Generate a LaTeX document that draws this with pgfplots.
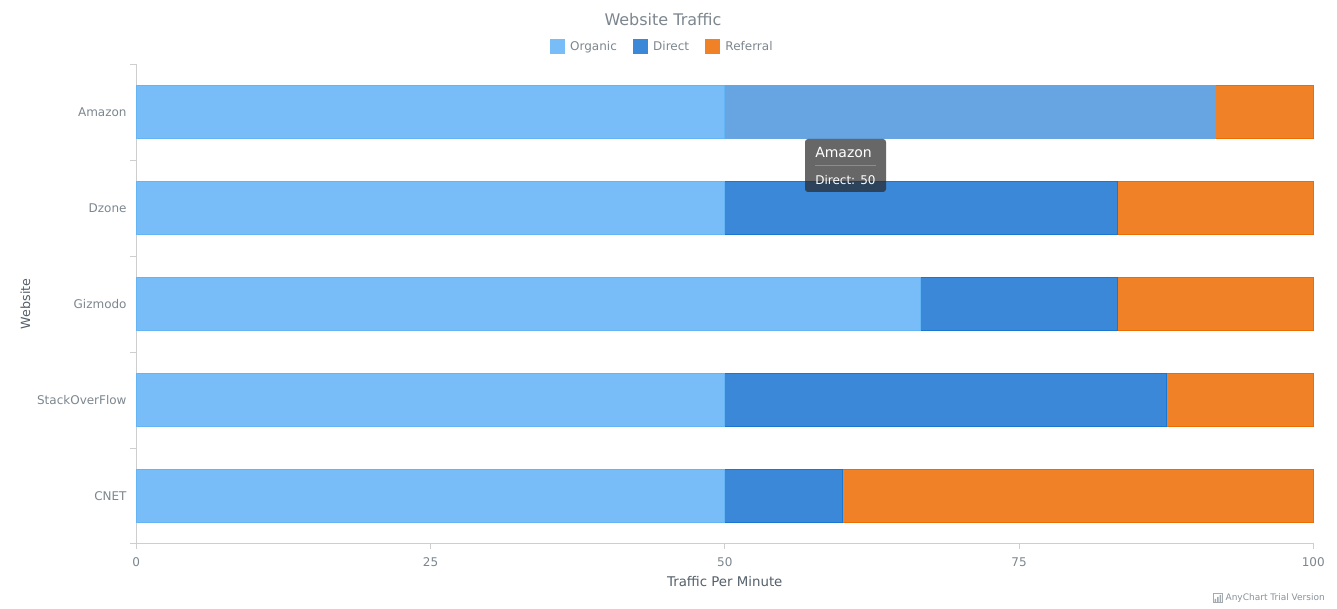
\documentclass[border=0pt]{standalone}
\usepackage{fontspec}
\setmainfont{DejaVu Sans}
\usepackage{pgfplots}
\pgfplotsset{compat=1.18}
\definecolor{organic}{HTML}{79BDF8}
\definecolor{organicedge}{HTML}{64B5F6}
\definecolor{direct}{HTML}{3B88D8}
\definecolor{directedge}{HTML}{1976D2}
\definecolor{hoverfill}{HTML}{67A4E2}
\definecolor{referral}{HTML}{F18127}
\definecolor{referraledge}{HTML}{EF6C00}
\definecolor{lbl}{HTML}{7C868E}
\definecolor{axtitle}{HTML}{545F69}
\definecolor{axline}{HTML}{CECECE}
\begin{document}
\begin{tikzpicture}
\path[use as bounding box] (0pt,0pt) rectangle (1002.75pt,456.75pt);
\begin{axis}[
    at={(102.2pt,49.3pt)}, anchor=south west,
    scale only axis, width=882.75pt, height=359.25pt,
    xbar stacked, bar width=39.75pt,
    xmin=0, xmax=100, ymin=-0.49, ymax=4.5,
    xtick={0,25,50,75,100},
    ytick={0,1,2,3,4},
    yticklabels={CNET,StackOverFlow,Gizmodo,Dzone,Amazon},
    minor ytick={-0.49,0.5,1.5,2.5,3.5,4.5},
    axis x line*=bottom, axis y line*=left,
    axis line style={axline,-,line width=0.75pt},
    tick align=outside,
    major tick length=4.5pt,
    minor tick length=4.5pt,
    every major y tick/.style={draw=none},
    every major x tick/.style={draw=axline,line width=0.75pt},
    every minor y tick/.style={draw=axline,line width=0.75pt},
    /pgf/number format/assume math mode=true,
    tick label style={font=\fontsize{9}{11}\selectfont,text=lbl},
    yticklabel style={xshift=0.75pt},
    xticklabel style={yshift=-3pt},
    xlabel={Traffic Per Minute},
    ylabel={Website},
    xlabel style={font=\fontsize{10}{12}\selectfont,text=axtitle,at={(axis description cs:0.5,-0.079)},anchor=center},
    ylabel style={font=\fontsize{9.5}{11}\selectfont,text=axtitle,at={(axis description cs:-0.0942,0.5)},anchor=center},
    every axis title shift=0pt,
    title={Website Traffic},
    title style={font=\fontsize{12}{14}\selectfont,text=lbl,at={(axis description cs:0.4475,1.0935)},anchor=center},
    legend style={at={(axis description cs:0.447,1.0365)},anchor=center,draw=none,fill=none,
        legend columns=-1,font=\fontsize{9}{11}\selectfont,text=lbl,
        /tikz/every odd column/.append style={column sep=2.25pt},
        /tikz/every even column/.append style={column sep=9.75pt},
        inner sep=0pt},
    legend image code/.code={\fill[#1,draw=none] (0pt,-5.6pt) rectangle (11.25pt,5.6pt);},
    clip=false,
]
\addplot[fill=organic,draw=organicedge,line width=0.75pt] coordinates {
    (50,0) (50,1) (66.67,2) (50,3) (50,4)};
\addlegendentry{Organic}
% Amazon's Direct bar is the hovered one, so it has its own lighter series
\addplot[forget plot,fill=hoverfill,draw=hoverfill,line width=0.75pt] coordinates {
    (0,0) (0,1) (0,2) (0,3) (41.67,4)};
\addplot[fill=direct,draw=directedge,line width=0.75pt] coordinates {
    (10,0) (37.5,1) (16.67,2) (33.33,3) (0,4)};
\addlegendentry{Direct}
\addplot[fill=referral,draw=referraledge,line width=0.75pt] coordinates {
    (40,0) (12.5,1) (16.67,2) (16.67,3) (8.33,4)};
\addlegendentry{Referral}
\end{axis}
\begin{scope}[x=0.75pt,y=-0.75pt,yshift=456.75pt]
% tooltip
\fill[black!85,fill opacity=0.7,rounded corners=2.25pt] (805,139) rectangle (886,192);
\draw[white!55!black,line width=0.75pt] (815,166) -- (876,166);
\node[anchor=west,inner sep=0pt,text=white,font=\fontsize{10.5}{12}\selectfont] at (815,153) {Amazon};
\node[anchor=west,inner sep=0pt,text=white,font=\fontsize{9}{11}\selectfont] at (815,180) {Direct: 50};
% trial watermark
\draw[lbl!70,line width=0.5pt] (1213,593.5) rectangle (1222.5,602.5);
\fill[lbl!70] (1214.5,599) rectangle (1216,602) (1217,597) rectangle (1218.5,602) (1219.5,595) rectangle (1221,602);
\node[anchor=east,inner sep=0pt,text=lbl!90,font=\fontsize{6.75}{9}\selectfont] at (1325,598) {AnyChart Trial Version};
\end{scope}
\end{tikzpicture}
\end{document}
